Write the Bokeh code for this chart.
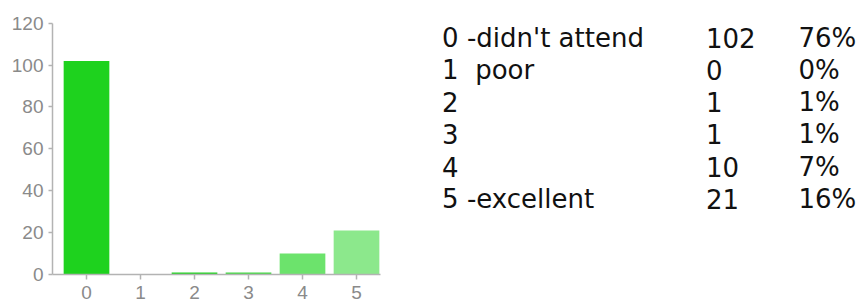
from bokeh.plotting import figure
from bokeh.models import Range1d, FixedTicker
from bokeh.core.properties import value
from bokeh.embed import file_html
from bokeh.resources import INLINE

# ---- data ----
categories = [0, 1, 2, 3, 4, 5]
counts = [102, 0, 1, 1, 10, 21]
row_labels = ["0 -didn't attend", "1\u00a0 poor", "2", "3", "4", "5 -excellent"]
count_labels = ["102", "0", "1", "1", "10", "21"]
pct_labels = ["76%", "0%", "1%", "1%", "7%", "16%"]
y_ticks = [0, 20, 40, 60, 80, 100, 120]

# ---- styles ----
bar_colors = ["#1ed21e", "#2fd52f", "#22d322", "#45da45", "#6ce36c", "#8ce88c"]
axis_color = "#b3b3b3"
label_color = "#8a8a8a"

# ---- single figure: bar chart on the left, table on the right ----
p = figure(width=860, height=302, output_backend="svg", toolbar_location=None,
           x_range=Range1d(-0.6296, 14.333), y_range=Range1d(0, 130.84),
           min_border_left=52, min_border_right=0, min_border_top=0, min_border_bottom=28)
p.extra_x_ranges = {"table": Range1d(0, 808)}
p.extra_y_ranges = {"rows": Range1d(7.351, -1.158)}

p.vbar(x=categories, top=counts, width=0.846, fill_color=bar_colors, line_color=None)

p.grid.visible = False
p.outline_line_color = None
p.background_fill_color = "white"
p.border_fill_color = "white"

p.yaxis.ticker = FixedTicker(ticks=y_ticks)
p.xaxis.ticker = FixedTicker(ticks=categories)
p.yaxis.bounds = (0, 120)
p.xaxis.bounds = (-0.63, 5.44)
for ax in (p.xaxis[0], p.yaxis[0]):
    ax.axis_line_color = axis_color
    ax.axis_line_width = 1.5
    ax.major_tick_line_color = axis_color
    ax.major_tick_line_width = 1.5
    ax.major_tick_in = 0
    ax.minor_tick_line_color = None
    ax.major_label_text_color = label_color
    ax.major_label_text_font = "Liberation Sans"
    ax.major_label_text_font_size = "19px"
p.yaxis.major_tick_out = 4
p.yaxis.major_label_standoff = 5
p.xaxis.major_tick_out = 5
p.xaxis.major_label_standoff = 6

rows_idx = list(range(len(row_labels)))
col_x = [389.6, 653.4, 746.0]
for cx, labels in zip(col_x, [row_labels, count_labels, pct_labels]):
    p.text(x=[cx] * len(labels), y=rows_idx, text=labels,
           x_range_name="table", y_range_name="rows",
           text_font=value("DejaVu Sans"), text_font_size="26px",
           text_color="#111111", text_baseline="alphabetic", text_align="left")

open("out.html", "w").write(file_html(p, INLINE))
